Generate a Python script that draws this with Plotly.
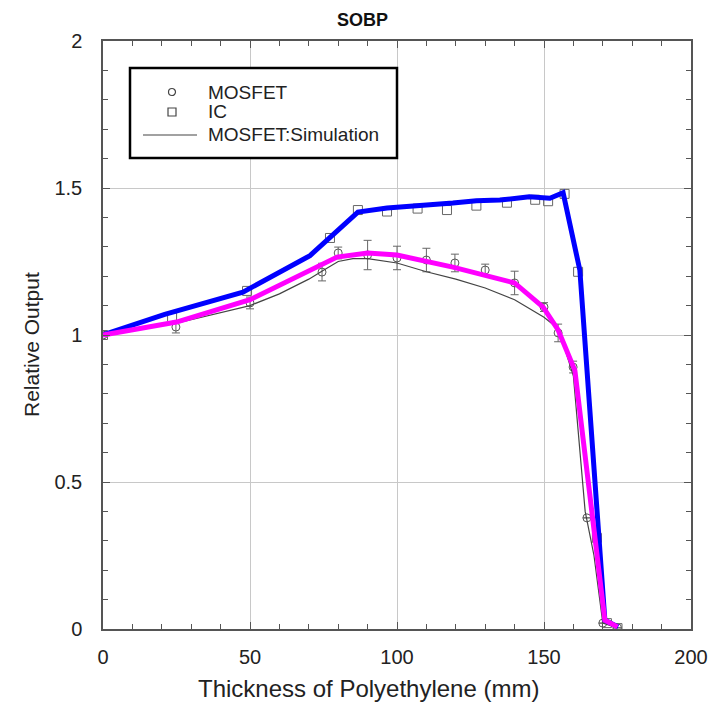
import plotly.graph_objects as go

# MOSFET measurements (with error bars)
mos_x = [0, 24.8, 50, 74.5, 80, 90, 100, 110, 119.7, 130, 140, 150, 154.8, 159.9, 164.6, 170, 175]
mos_y = [1.0, 1.027, 1.109, 1.214, 1.279, 1.272, 1.262, 1.255, 1.245, 1.221, 1.177, 1.095, 1.007, 0.891, 0.378, 0.02, 0.004]
mos_err = [0.0, 0.02, 0.02, 0.03, 0.02, 0.05, 0.04, 0.04, 0.03, 0.02, 0.04, 0.015, 0.03, 0.02, 0.0, 0.0, 0.0]

# IC measurements
ic_x = [0, 23.5, 49, 77.2, 86.7, 96.6, 107, 117, 127, 137.4, 147, 151.4, 157, 161.6, 168, 171.4, 175]
ic_y = [1.0, 1.06, 1.15, 1.33, 1.425, 1.42, 1.43, 1.425, 1.44, 1.45, 1.46, 1.455, 1.48, 1.215, 0.31, 0.02, 0.003]

# MOSFET simulation (thin line)
sim_x = [0, 10, 25, 50, 60, 70, 75, 80, 85, 90, 100, 110, 120, 130, 140, 150, 155, 160, 164, 167, 170, 175]
sim_y = [1.0, 1.02, 1.04, 1.10, 1.14, 1.19, 1.22, 1.25, 1.26, 1.26, 1.245, 1.215, 1.19, 1.16, 1.12, 1.06, 1.02, 0.86, 0.40, 0.25, 0.02, 0.004]

# Blue curve (IC trend)
blue_x = [0, 21, 47.6, 70.4, 86.7, 96.6, 119, 127, 135, 145, 152, 156.5, 162.2, 170.7, 175.2]
blue_y = [1.0, 1.07, 1.146, 1.27, 1.418, 1.432, 1.449, 1.457, 1.459, 1.47, 1.465, 1.484, 1.22, 0.03, 0.007]

# Magenta curve (MOSFET trend)
mag_x = [0, 25, 50, 79.6, 90, 100, 119, 140, 149.7, 154.8, 160.5, 170.7, 175]
mag_y = [1.0, 1.044, 1.12, 1.265, 1.279, 1.272, 1.231, 1.177, 1.095, 1.017, 0.88, 0.03, 0.007]

legend_labels = ["MOSFET", "IC", "MOSFET:Simulation"]

FONT = "Liberation Sans, Arial, sans-serif"
TXT = "#222222"

fig = go.Figure()

fig.add_trace(go.Scatter(
    x=mos_x, y=mos_y, mode="markers", name=legend_labels[0],
    marker=dict(symbol="circle-open", size=8, color="#555555", line=dict(width=1)),
    error_y=dict(type="data", array=mos_err, visible=True, color="#666666", thickness=1, width=4),
))
fig.add_trace(go.Scatter(
    x=ic_x, y=ic_y, mode="markers", name=legend_labels[1],
    marker=dict(symbol="square-open", size=9, color="#666666", line=dict(width=1)),
))
fig.add_trace(go.Scatter(
    x=sim_x, y=sim_y, mode="lines", name=legend_labels[2],
    line=dict(color="#444444", width=1.2),
))
fig.add_trace(go.Scatter(
    x=blue_x, y=blue_y, mode="lines",
    line=dict(color="#0000FF", width=5),
))
fig.add_trace(go.Scatter(
    x=mag_x, y=mag_y, mode="lines",
    line=dict(color="#FF00FF", width=5),
))

axis_common = dict(
    showline=True, linecolor="#555555", linewidth=1.5, mirror="ticks",
    ticks="inside", ticklen=7, tickcolor="#555555", tickwidth=1,
    showgrid=True, gridcolor="#c8c8c8", gridwidth=1.2,
    zeroline=False,
    tickfont=dict(family=FONT, size=20, color=TXT),
)

fig.update_xaxes(
    range=[0, 200], dtick=50, tick0=0,
    minor=dict(dtick=10, ticks="inside", ticklen=5, tickcolor="#555555", showgrid=False),
    ticklabelstandoff=9,
    **axis_common,
)
fig.update_yaxes(
    range=[0, 2], dtick=0.5, tick0=0,
    minor=dict(dtick=0.1, ticks="inside", ticklen=5, tickcolor="#555555", showgrid=False),
    ticklabelstandoff=15,
    **axis_common,
)

# ---- plot-area geometry helpers (pixel -> paper) for the legend box ----
L, R, T, B = 103, 34, 41, 77
W, H = 725, 706
pw, ph = W - L - R, H - T - B
def px(x):
    return (x - L) / pw
def py(y):
    return (H - B - y) / ph

shapes = []
# legend frame
shapes.append(dict(type="rect", xref="paper", yref="paper", layer="above",
                   x0=px(130), x1=px(397), y0=py(158), y1=py(68),
                   fillcolor="white", line=dict(color="black", width=2.5)))
# circle symbol
shapes.append(dict(type="circle", xref="paper", yref="paper", layer="above",
                   x0=px(168.5), x1=px(175.5), y0=py(95.5), y1=py(88.5),
                   line=dict(color="#444444", width=1.2)))
# square symbol
shapes.append(dict(type="rect", xref="paper", yref="paper", layer="above",
                   x0=px(168), x1=px(176), y0=py(116), y1=py(108),
                   line=dict(color="#444444", width=1.2)))
# line symbol
shapes.append(dict(type="line", xref="paper", yref="paper", layer="above",
                   x0=px(143), x1=px(197), y0=py(135), y1=py(135),
                   line=dict(color="#444444", width=1.2)))

annotations = []
for lab, yy in zip(legend_labels, [92, 112, 135]):
    annotations.append(dict(text=lab, xref="paper", yref="paper", x=px(206), y=py(yy),
                            xanchor="left", yanchor="middle", showarrow=False,
                            font=dict(family=FONT, size=19, color=TXT)))
# axis titles
annotations.append(dict(text="Thickness of Polyethylene (mm)", xref="paper", yref="paper",
                        x=px(368), y=py(689), xanchor="center", yanchor="middle", showarrow=False,
                        font=dict(family=FONT, size=24, color=TXT)))
annotations.append(dict(text="Relative Output", xref="paper", yref="paper",
                        x=px(31), y=py(345), xanchor="center", yanchor="middle", showarrow=False,
                        textangle=-90, font=dict(family=FONT, size=21, color=TXT)))

fig.update_layout(
    width=W, height=H,
    margin=dict(l=L, r=R, t=T, b=B),
    paper_bgcolor="white", plot_bgcolor="white",
    title=dict(text="<b>SOBP</b>", x=0.5, xref="container", y=0.972, yanchor="middle",
               font=dict(family=FONT, size=18, color="#111111")),
    showlegend=False,
    shapes=shapes,
    annotations=annotations,
)

fig.write_html("out.html")
